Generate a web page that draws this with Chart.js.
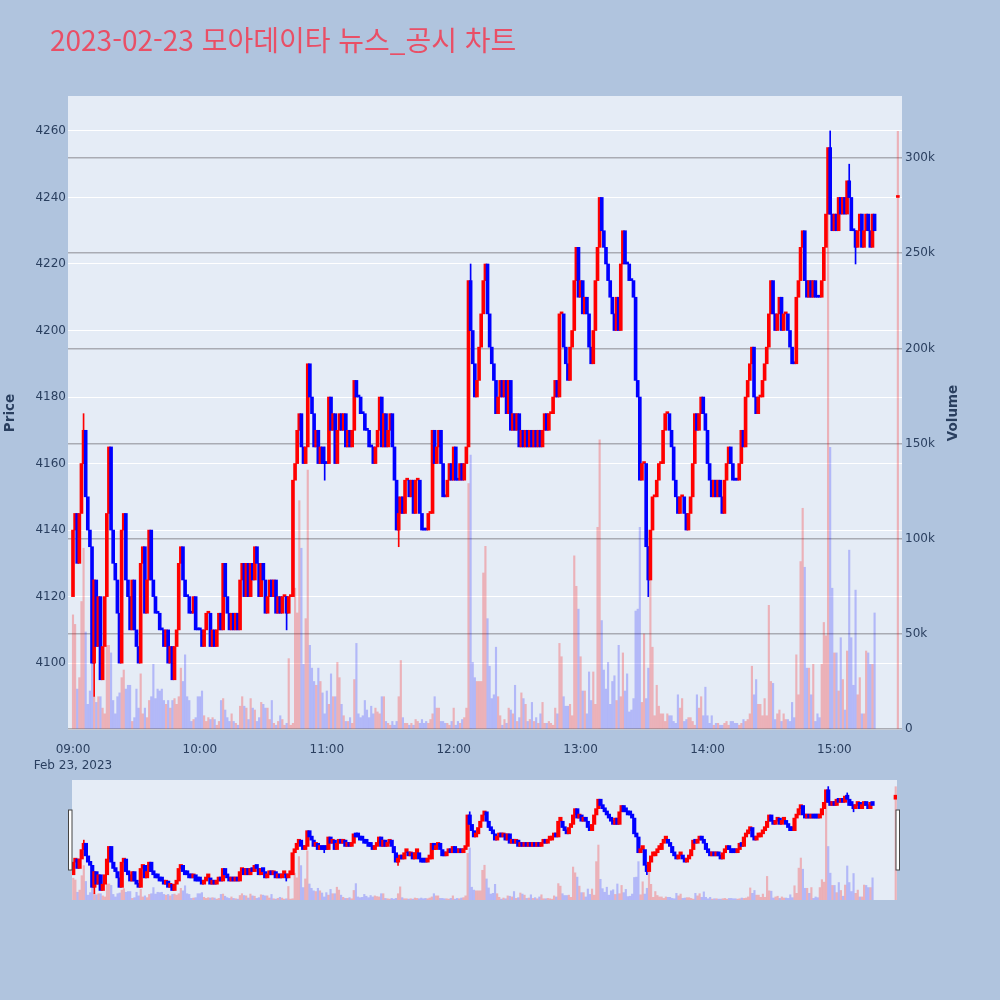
<!DOCTYPE html>
<html lang="ko">
<head>
<meta charset="utf-8">
<title>2023-02-23 모아데이타 뉴스_공시 차트</title>
<script src="https://cdn.jsdelivr.net/npm/chart.js@4/dist/chart.umd.min.js"></script>
<style>
  html, body { margin: 0; padding: 0; background: #B0C4DE; }
  #wrap { position: relative; width: 1000px; height: 1000px; overflow: hidden; }
  #main { position: absolute; left: 0; top: 0; }
  #slider { position: absolute; left: 0; top: 770px; }
  #title {
    position: absolute; left: 50px; top: 25px;
    font-family: "Noto Sans CJK KR", sans-serif; font-size: 28px; line-height: 28px;
    color: #E94F66; white-space: nowrap;
  }
</style>
</head>
<body>
<div id="wrap">
  <canvas id="main" width="1000" height="780"></canvas>
  <canvas id="slider" width="1000" height="140"></canvas>
  <div id="title">2023-02-23 모아데이타 뉴스_공시 차트</div>
</div>
<script>
// == Data: one bar per minute, index 0 = 09:00 ==
const firstOpen = 4120;

const closes = [
  4140,4145,4130,4145,4160,4170,4150,4140,4135,4100,
  4125,4105,4120,4095,4105,4120,4145,4165,4140,4130,
  4125,4115,4100,4140,4145,4125,4120,4110,4125,4110,
  4105,4100,4130,4135,4115,4125,4140,4125,4120,4115,
  4115,4110,4110,4105,4110,4100,4105,4095,4105,4110,
  4130,4135,4125,4120,4120,4115,4115,4120,4110,4110,
  4110,4105,4110,4115,4115,4105,4110,4105,4110,4115,
  4110,4130,4120,4115,4110,4115,4110,4115,4110,4125,
  4130,4120,4130,4120,4130,4125,4135,4130,4120,4130,
  4125,4115,4120,4125,4120,4125,4115,4120,4115,4120,
  4120,4115,4120,4120,4155,4160,4170,4175,4165,4160,
  4165,4190,4180,4175,4165,4170,4160,4165,4160,4160,
  4160,4180,4170,4175,4160,4170,4175,4170,4175,4165,
  4170,4165,4170,4185,4180,4180,4175,4175,4170,4170,
  4165,4165,4160,4165,4170,4180,4165,4175,4165,4170,
  4175,4165,4155,4140,4145,4150,4145,4155,4155,4150,
  4155,4145,4155,4155,4145,4140,4140,4140,4145,4145,
  4170,4160,4165,4170,4160,4150,4150,4155,4160,4155,
  4165,4155,4155,4160,4155,4160,4165,4215,4200,4190,
  4180,4185,4195,4205,4215,4220,4205,4195,4190,4185,
  4175,4180,4185,4180,4185,4175,4185,4170,4175,4170,
  4175,4165,4170,4165,4170,4165,4170,4165,4170,4165,
  4170,4165,4170,4175,4170,4175,4175,4180,4185,4180,
  4205,4205,4195,4190,4185,4195,4200,4215,4225,4210,
  4215,4205,4210,4205,4195,4190,4200,4215,4225,4240,
  4230,4225,4220,4215,4210,4205,4200,4210,4200,4220,
  4230,4220,4220,4215,4215,4210,4185,4180,4155,4160,
  4160,4135,4125,4140,4150,4150,4155,4160,4160,4170,
  4175,4175,4170,4165,4155,4150,4145,4150,4150,4145,
  4140,4145,4150,4160,4175,4170,4175,4180,4175,4170,
  4160,4155,4150,4155,4150,4155,4150,4145,4155,4160,
  4165,4160,4155,4155,4155,4160,4170,4165,4180,4185,
  4190,4195,4180,4175,4180,4180,4185,4190,4195,4205,
  4215,4205,4200,4205,4210,4200,4205,4205,4200,4195,
  4190,4190,4210,4215,4225,4230,4215,4210,4215,4210,
  4215,4210,4210,4210,4215,4225,4235,4255,4235,4230,
  4235,4230,4240,4235,4240,4235,4245,4240,4230,4230,
  4225,4230,4235,4225,4230,4235,4230,4225,4235,4230
];

// volume in thousands of shares
const volumesK = [
  60,55,21,27,67,95,51,13,20,44,
  17,14,17,17,11,8,44,44,40,15,
  8,17,19,27,31,21,23,23,4,6,
  21,11,29,8,11,6,15,17,34,16,
  21,20,21,15,13,15,11,15,16,13,
  17,32,25,39,17,15,4,5,6,17,
  17,20,7,4,6,5,6,5,2,4,
  15,16,10,6,4,8,4,3,2,12,
  17,12,11,5,16,11,10,4,6,14,
  13,11,11,5,15,3,2,4,7,5,
  2,3,37,2,3,74,61,120,95,34,
  58,136,44,32,25,23,32,25,19,8,
  20,13,29,17,17,35,27,13,7,4,
  4,6,3,26,45,8,6,7,15,10,
  6,12,8,11,9,8,17,17,4,3,
  2,4,2,4,17,36,6,3,3,2,
  3,2,5,4,3,5,3,4,3,5,
  8,17,11,11,4,4,3,3,2,4,
  11,2,4,3,5,6,11,129,144,35,
  27,25,25,25,82,96,58,33,16,18,
  43,17,7,2,5,3,11,10,8,23,
  4,6,19,16,13,4,5,14,4,6,
  3,8,14,3,3,4,3,2,11,8,
  45,38,17,12,12,13,7,91,75,63,
  38,20,20,8,30,15,30,13,106,152,
  57,31,21,35,13,25,28,15,44,17,
  40,20,29,9,10,16,62,63,106,14,
  50,16,32,95,43,7,23,12,8,8,
  4,8,7,7,4,3,18,11,16,4,
  5,6,6,4,2,18,11,17,7,22,
  7,3,7,2,3,3,2,2,3,4,
  2,4,4,3,3,2,3,5,4,5,
  8,33,18,26,13,13,7,16,7,65,
  25,24,5,8,10,4,8,5,5,4,
  14,6,39,18,88,116,85,32,32,18,
  34,4,8,6,34,56,49,300,148,74,
  40,40,20,48,26,10,41,94,48,23,
  73,18,27,8,8,41,40,34,34,61
];

// closing auction at 15:30
const auctionMinute = 390;
const auctionPrice = 4240;
const auctionVolumeK = 314;

// wicks that reach past the bodies: [minute, low, high]
const wicks = [
  [5, 4160, 4175], [10, 4090, 4125], [101, 4110, 4120], [119, 4155, 4165],
  [154, 4135, 4150], [188, 4200, 4220], [272, 4120, 4135], [358, 4235, 4260],
  [367, 4240, 4250], [370, 4220, 4230]
];

const priceTicks = [4100, 4120, 4140, 4160, 4180, 4200, 4220, 4240, 4260];
const volumeTicks = [0, 50, 100, 150, 200, 250, 300];
const timeTicks = [0, 60, 120, 180, 240, 300, 360];
const timeLabels = ["09:00", "10:00", "11:00", "12:00", "13:00", "14:00", "15:00"];
const dateLabel = "Feb 23, 2023";

// == Styling ==
const UP = "#ff0000";
const DOWN = "#0000ff";
const UP_VOL = "rgba(255,0,0,0.25)";
const DOWN_VOL = "rgba(0,0,255,0.22)";
const TEXT = "#2a3f5f";
const PLOT_BG = "#E5ECF6";
const PRICE_RANGE = [4079.9, 4270.5];
const VOL_RANGE = [-0.5, 332.6];

Chart.defaults.font.family = "'DejaVu Sans', sans-serif";
Chart.defaults.color = TEXT;

// == Build the candle / volume series ==
const bodies = [];
const bodyColors = [];
const vols = [];
const volColors = [];
const dirAt = {};

function direction(o, c, prevC, prevDir) {
  if (c > o) return 1;
  if (c < o) return -1;
  if (c > prevC) return 1;
  if (c < prevC) return -1;
  return prevDir;
}

let prevClose = firstOpen;
let prevDir = 1;
closes.forEach((c, m) => {
  const o = m === 0 ? firstOpen : closes[m - 1];
  const d = direction(o, c, prevClose, prevDir);
  bodies.push({ x: m, y: [o, c] });
  bodyColors.push(d > 0 ? UP : DOWN);
  vols.push({ x: m, y: volumesK[m] });
  volColors.push(d > 0 ? UP_VOL : DOWN_VOL);
  dirAt[m] = d;
  prevClose = c;
  prevDir = d;
});

const dAuction = direction(auctionPrice, auctionPrice, prevClose, prevDir);
bodies.push({ x: auctionMinute, y: [auctionPrice, auctionPrice] });
bodyColors.push(dAuction > 0 ? UP : DOWN);
vols.push({ x: auctionMinute, y: auctionVolumeK });
volColors.push(dAuction > 0 ? UP_VOL : DOWN_VOL);

const wickData = wicks.map(([m, lo, hi]) => ({ x: m, y: [lo, hi] }));
const wickColors = wicks.map(([m]) => (dirAt[m] > 0 ? UP : DOWN));

function makeDatasets(bodyWidth, bodyMin) {
  return [
    { label: "bodies", data: bodies, backgroundColor: bodyColors, barThickness: bodyWidth,
      minBarLength: bodyMin, grouped: false, yAxisID: "y" },
    { label: "wicks", data: wickData, backgroundColor: wickColors, barThickness: 1,
      grouped: false, yAxisID: "y" },
    { label: "volume", data: vols, backgroundColor: volColors, barThickness: 1.5,
      grouped: false, yAxisID: "y2" }
  ];
}

// == Plugins ==
const plotBg = {
  id: "plotBg",
  beforeDraw(chart) {
    const { ctx, chartArea: a } = chart;
    ctx.save();
    ctx.fillStyle = PLOT_BG;
    ctx.fillRect(a.left, a.top, a.right - a.left, a.bottom - a.top);
    ctx.restore();
  }
};

const volumeTitle = {
  id: "volumeTitle",
  afterDraw(chart) {
    const { ctx, chartArea: a } = chart;
    ctx.save();
    ctx.translate(a.right + 51, (a.top + a.bottom) / 2);
    ctx.rotate(-Math.PI / 2);
    ctx.font = "bold 13.5px 'DejaVu Sans'";
    ctx.fillStyle = TEXT;
    ctx.textAlign = "center";
    ctx.textBaseline = "middle";
    ctx.fillText("Volume", 0, 0);
    ctx.restore();
  }
};

const sliderHandles = {
  id: "sliderHandles",
  afterDraw(chart) {
    const { ctx, chartArea: a } = chart;
    const mid = (a.top + a.bottom) / 2;
    ctx.save();
    ctx.fillStyle = "#ffffff";
    ctx.strokeStyle = "#444444";
    ctx.lineWidth = 1;
    [a.left - 2, a.right + 0.5].forEach(x => {
      ctx.fillRect(x - 1.5, mid - 30, 3.5, 60);
      ctx.strokeRect(x - 1.5, mid - 30, 3.5, 60);
    });
    ctx.restore();
  }
};

// == Main chart ==
new Chart(document.getElementById("main"), {
  type: "bar",
  data: { datasets: makeDatasets(3, 2) },
  options: {
    responsive: false,
    animation: false,
    devicePixelRatio: 1,
    layout: { padding: { top: 96, left: 0, right: 0, bottom: 0 } },
    plugins: { legend: { display: false }, tooltip: { enabled: false }, title: { display: false } },
    scales: {
      x: {
        type: "linear",
        min: -2.36,
        max: 391.96,
        offset: false,
        grid: { display: false },
        border: { display: false },
        afterBuildTicks: s => { s.ticks = timeTicks.map(v => ({ value: v })); },
        ticks: {
          autoSkip: false, maxRotation: 0, padding: 4, color: TEXT,
          font: { size: 12, lineHeight: 1.3 },
          callback: v => {
            const i = timeTicks.indexOf(v);
            return i === 0 ? [timeLabels[0], dateLabel] : timeLabels[i];
          }
        },
        afterFit: s => { s.height = 50; }
      },
      y: {
        position: "left",
        min: PRICE_RANGE[0],
        max: PRICE_RANGE[1],
        grid: { color: "#ffffff", lineWidth: 1, drawTicks: false },
        border: { display: false },
        afterBuildTicks: s => { s.ticks = priceTicks.map(v => ({ value: v })); },
        ticks: { padding: 2, color: TEXT, font: { size: 12 }, callback: v => String(v) },
        title: {
          display: true, text: "Price", color: TEXT,
          font: { size: 13.5, weight: "bold" }, padding: { top: 2, bottom: 0 }
        },
        afterFit: s => { s.width = 68; }
      },
      y2: {
        position: "right",
        min: VOL_RANGE[0],
        max: VOL_RANGE[1],
        grid: { color: "#a9abb3", lineWidth: 1.5, drawTicks: false },
        border: { display: false },
        afterBuildTicks: s => { s.ticks = volumeTicks.map(v => ({ value: v })); },
        ticks: { padding: 3, color: TEXT, font: { size: 12 }, callback: v => (v === 0 ? "0" : v + "k") },
        afterFit: s => { s.width = 98; }
      }
    }
  },
  plugins: [plotBg, volumeTitle]
});

// == Range slider ==
new Chart(document.getElementById("slider"), {
  type: "bar",
  data: { datasets: makeDatasets(3.5, 4) },
  options: {
    responsive: false,
    animation: false,
    devicePixelRatio: 1,
    layout: { padding: { top: 10, left: 72, right: 103, bottom: 10 } },
    plugins: { legend: { display: false }, tooltip: { enabled: false } },
    scales: {
      x: { type: "linear", min: -0.6, max: 390.6, offset: false, display: false },
      y: { min: PRICE_RANGE[0], max: PRICE_RANGE[1], display: false },
      y2: { min: VOL_RANGE[0], max: VOL_RANGE[1], display: false }
    }
  },
  plugins: [plotBg, sliderHandles]
});
</script>
</body>
</html>
